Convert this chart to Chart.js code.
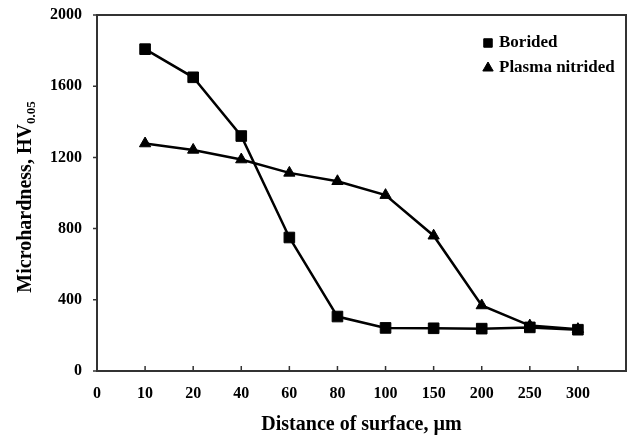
<!DOCTYPE html>
<html>
<head>
<meta charset="utf-8">
<script src="https://cdn.jsdelivr.net/npm/chart.js@4"></script>
<style>
  html, body { margin: 0; padding: 0; background: #fff; }
  #wrap { width: 629px; height: 437px; }
</style>
</head>
<body>
<div id="wrap"><canvas id="chart" width="629" height="437"></canvas></div>
<script>
// data
const distances = ['0', '10', '20', '40', '60', '80', '100', '150', '200', '250', '300', ''];
const borided = [null, 1808, 1650, 1320, 750, 306, 242, 240, 238, 245, 232, null];
const plasmaNitrided = [null, 1278, 1242, 1188, 1113, 1066, 988, 760, 368, 255, 235, null];
const yTicks = [0, 400, 800, 1200, 1600, 2000];

const serif = '"Liberation Serif", "Times New Roman", serif';

// frame, tick marks, y title with subscript, legend
const decorations = {
    id: 'decorations',
    afterDraw(chart) {
        const ctx = chart.ctx;
        const area = chart.chartArea;
        const x = chart.scales.x;
        const y = chart.scales.y;
        ctx.save();
        ctx.strokeStyle = '#333';
        ctx.lineWidth = 2;
        ctx.strokeRect(area.left, area.top, area.right - area.left, area.bottom - area.top);

        ctx.lineWidth = 1.5;
        ctx.beginPath();
        for (let i = 1; i < distances.length - 1; i++) {
            const px = x.getPixelForValue(i);
            ctx.moveTo(px, area.bottom);
            ctx.lineTo(px, area.bottom - 5);
        }
        yTicks.forEach(v => {
            const py = y.getPixelForValue(v);
            ctx.moveTo(area.left, py);
            ctx.lineTo(area.left - 4, py);
        });
        ctx.stroke();

        // y axis title
        ctx.fillStyle = '#000';
        ctx.translate(26, 197);
        ctx.rotate(-Math.PI / 2);
        ctx.textBaseline = 'middle';
        const main = 'Microhardness, HV';
        ctx.font = 'bold 20px ' + serif;
        const mw = ctx.measureText(main).width;
        ctx.font = 'bold 13px ' + serif;
        const sw = ctx.measureText('0.05').width;
        const start = -(mw + sw) / 2;
        ctx.font = 'bold 20px ' + serif;
        ctx.textAlign = 'left';
        ctx.fillText(main, start, 0);
        ctx.font = 'bold 13px ' + serif;
        ctx.fillText('0.05', start + mw, 6);
        ctx.restore();

        // legend
        ctx.save();
        ctx.font = 'bold 17px ' + serif;
        ctx.textBaseline = 'middle';
        ctx.textAlign = 'left';
        chart.data.datasets.forEach((ds, i) => {
            const ly = 43 + i * 25;
            ctx.fillStyle = '#000';
            ctx.strokeStyle = '#000';
            ctx.lineWidth = 1;
            Chart.helpers.drawPoint(ctx, {
                pointStyle: ds.pointStyle,
                radius: 6,
                borderWidth: 1
            }, 488, ly);
            ctx.fillText(ds.label, 499, ly);
        });
        ctx.restore();
    }
};

new Chart(document.getElementById('chart'), {
    type: 'line',
    data: {
        labels: distances,
        datasets: [{
            label: 'Borided',
            data: borided,
            borderColor: '#000',
            backgroundColor: '#000',
            borderWidth: 2.5,
            pointStyle: 'rect',
            pointRadius: 7.5,
            pointBorderWidth: 1,
            pointBackgroundColor: '#000',
            pointBorderColor: '#000',
            tension: 0
        }, {
            label: 'Plasma nitrided',
            data: plasmaNitrided,
            borderColor: '#000',
            backgroundColor: '#000',
            borderWidth: 2.5,
            pointStyle: 'triangle',
            pointRadius: 6.5,
            pointBorderWidth: 1,
            pointBackgroundColor: '#000',
            pointBorderColor: '#000',
            tension: 0
        }]
    },
    options: {
        responsive: false,
        animation: false,
        events: [],
        layout: { autoPadding: false, padding: { left: 0, top: 15, right: 3, bottom: 0 } },
        scales: {
            x: {
                type: 'category',
                offset: false,
                grid: { display: false, drawTicks: false },
                border: { display: false },
                ticks: {
                    autoSkip: false,
                    maxRotation: 0,
                    padding: 13,
                    color: '#000',
                    font: { family: serif, size: 16, weight: 'bold' }
                },
                title: {
                    display: true,
                    text: 'Distance of surface, µm',
                    color: '#000',
                    padding: { top: 0, bottom: 0 },
                    font: { family: serif, size: 20, weight: 'bold' }
                },
                afterFit(scale) {
                    scale.height = 66;
                    scale.paddingLeft = 0;
                    scale.paddingRight = 0;
                }
            },
            y: {
                min: 0,
                max: 2000,
                afterBuildTicks(scale) { scale.ticks = yTicks.map(v => ({ value: v })); },
                grid: { display: false, drawTicks: false },
                border: { display: false },
                ticks: {
                    padding: 15,
                    color: '#000',
                    font: { family: serif, size: 16, weight: 'bold' },
                    callback: v => String(v)
                },
                afterFit(scale) {
                    scale.width = 97;
                    scale.paddingTop = 0;
                    scale.paddingBottom = 0;
                }
            }
        },
        plugins: {
            legend: { display: false },
            tooltip: { enabled: false }
        }
    },
    plugins: [decorations]
});
</script>
</body>
</html>
